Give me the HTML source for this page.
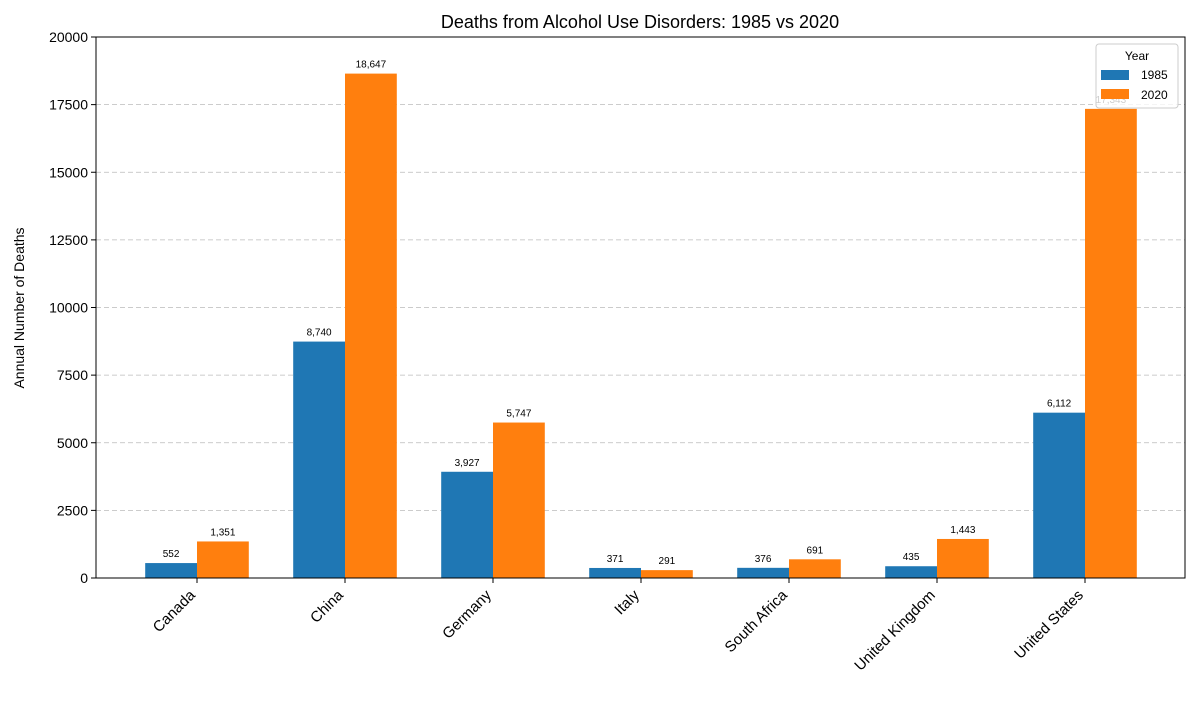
<!DOCTYPE html>
<html><head><meta charset="utf-8"><style>
body{margin:0;background:#fff;font-family:"Liberation Sans",sans-serif}
</style></head><body>
<svg id="chart" width="1200" height="700" xmlns="http://www.w3.org/2000/svg">
<text x="640" y="28" text-anchor="middle" font-size="18">Deaths from Alcohol Use Disorders: 1985 vs 2020</text>
<text transform="translate(24,308) rotate(-90)" text-anchor="middle" font-size="14">Annual Number of Deaths</text>
<g id="grid"></g><g id="bars"></g><g id="labels"></g><g id="axes"></g>
<rect x="96" y="37" width="1089" height="541" fill="none" stroke="#000" stroke-width="1"/>
<g>
<rect x="1096" y="44" width="82" height="64" rx="3" fill="#fff" fill-opacity="0.8" stroke="#ccc"/>
<text x="1137" y="60" text-anchor="middle" font-size="12">Year</text>
<rect x="1101" y="70" width="28" height="10" fill="#1f77b4"/>
<text x="1141" y="79" font-size="12">1985</text>
<rect x="1101" y="89" width="28" height="10" fill="#ff7f0e"/>
<text x="1141" y="99" font-size="12">2020</text>
</g>
</svg>
<script>
const categories=["Canada","China","Germany","Italy","South Africa","United Kingdom","United States"];
const values1985=[552,8740,3927,371,376,435,6112];
const values2020=[1351,18647,5747,291,691,1443,17343];
const yTicks=[0,2500,5000,7500,10000,12500,15000,17500,20000];
const NS="http://www.w3.org/2000/svg";
const y0=578,y1=37,yMax=20000;
const y=v=>y0-(v/yMax)*(y0-y1);
const cx=i=>197+148*i;
const bw=51.8;
function mk(t,a,p){const e=document.createElementNS(NS,t);for(const k in a)e.setAttribute(k,a[k]);p.appendChild(e);return e;}
const grid=document.getElementById('grid'),bars=document.getElementById('bars'),labels=document.getElementById('labels'),axes=document.getElementById('axes');
yTicks.forEach(t=>{
 if(t>0){const g=mk('line',{x1:96,x2:1185,y1:y(t),y2:y(t),stroke:'#bbb','stroke-dasharray':'5,3','stroke-width':0.8},grid);
 
 }
 const tk=mk('line',{x1:91,x2:96,y1:y(t),y2:y(t),stroke:'#000'},axes);
 
 
 const tl=mk('text',{x:88,y:y(t)+5,'text-anchor':'end','font-size':14},axes);tl.textContent=t;
 
 
});
const fmt=v=>v.toLocaleString('en-US');
categories.forEach((c,i)=>{
 [[values1985,'#1f77b4',-1,'1985'],[values2020,'#ff7f0e',0,'2020']].forEach(([arr,col,off,yr])=>{
  const v=arr[i],x=cx(i)+off*bw;
  const r=mk('rect',{x:x,y:y(v),width:bw,height:y0-y(v),fill:col},bars);
  
  
  const l=mk('text',{x:x+bw/2,y:y(v)-6,'text-anchor':'middle','font-size':10},labels);l.textContent=fmt(v);
  
  
 });
 const tk=mk('line',{x1:cx(i),x2:cx(i),y1:578,y2:583,stroke:'#000'},axes);
 
 
 const lx=cx(i)-1,ly=596;
 const tl=mk('text',{x:lx,y:ly,'text-anchor':'end','font-size':15,transform:`rotate(-45 ${lx} ${ly})`},axes);tl.textContent=c;
 
 
});
</script>
</body></html>
